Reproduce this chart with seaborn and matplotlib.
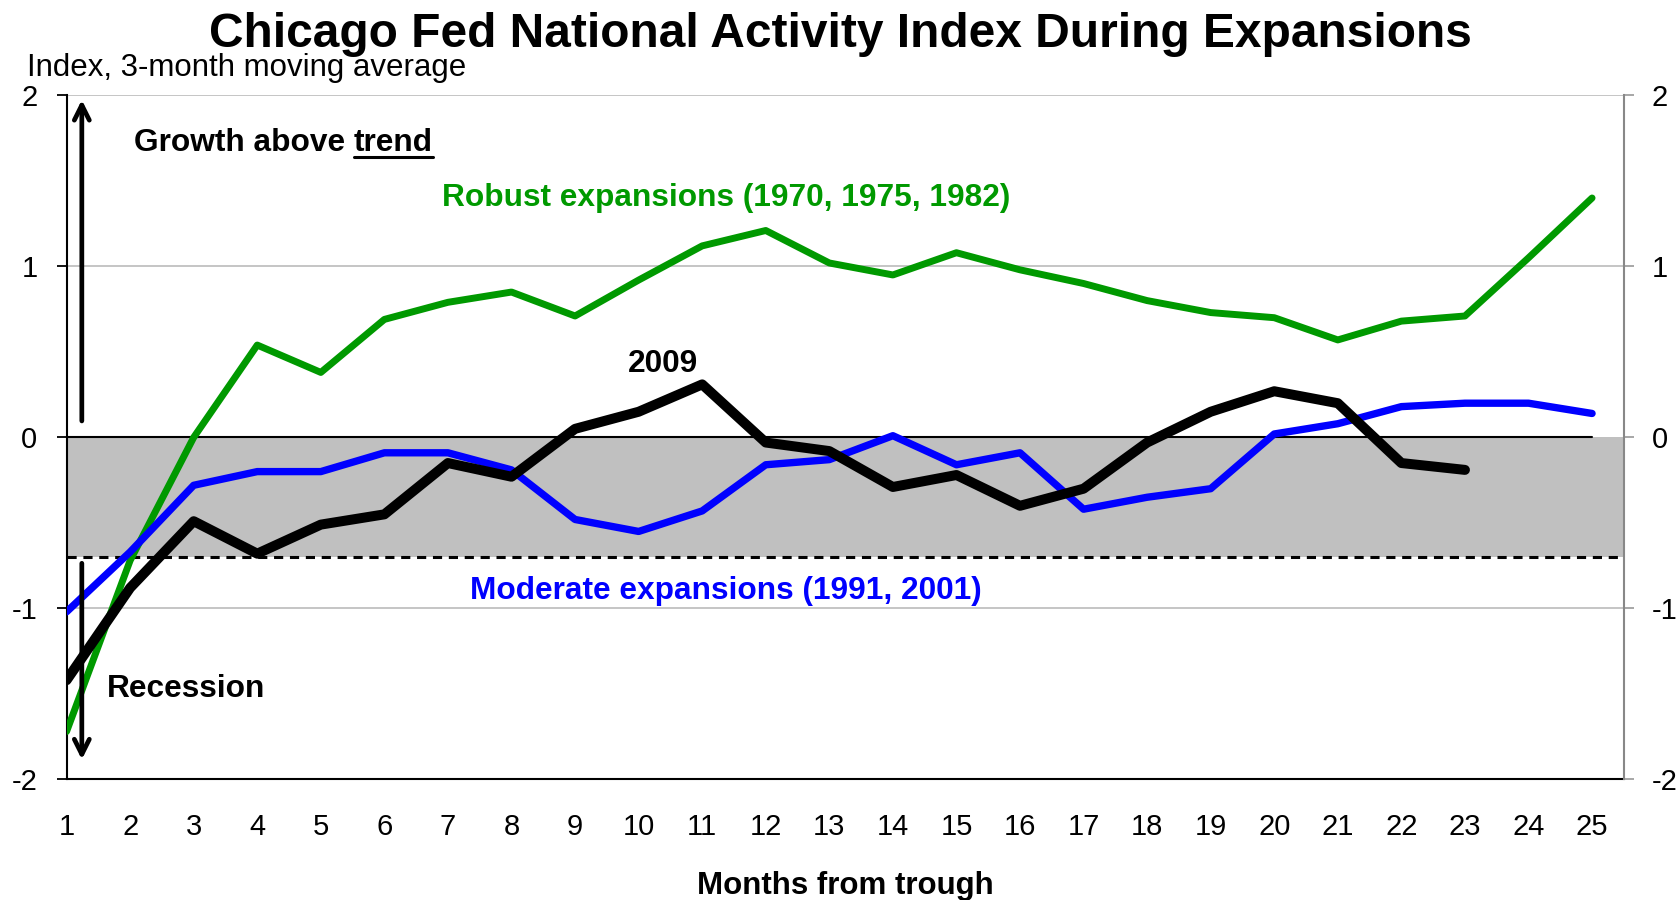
import numpy as np
import pandas as pd
import matplotlib
matplotlib.use("Agg")
import matplotlib.pyplot as plt
import seaborn as sns

months = list(range(1, 26))
robust = [-1.72, -0.72, 0.00, 0.54, 0.38, 0.69, 0.79, 0.85, 0.71, 0.92, 1.12, 1.21, 1.02,
          0.95, 1.08, 0.98, 0.90, 0.80, 0.73, 0.70, 0.57, 0.68, 0.71, 1.05, 1.40]
moderate = [-1.02, -0.67, -0.28, -0.20, -0.20, -0.09, -0.09, -0.19, -0.48, -0.55, -0.43, -0.16,
            -0.13, 0.01, -0.16, -0.09, -0.42, -0.35, -0.30, 0.02, 0.08, 0.18, 0.20, 0.20, 0.14]
months_2009 = list(range(1, 24))
y2009 = [-1.42, -0.88, -0.49, -0.68, -0.51, -0.45, -0.15, -0.23, 0.05, 0.15, 0.31, -0.03,
         -0.08, -0.29, -0.22, -0.40, -0.30, -0.03, 0.15, 0.27, 0.20, -0.15, -0.19]
yticks = [-2, -1, 0, 1, 2]
trend_level = -0.7

sns.set_theme(style="white")
plt.rcParams['font.family'] = ['Liberation Sans', 'DejaVu Sans']
for k in ["text.color", "axes.labelcolor", "xtick.color", "ytick.color"]:
    plt.rcParams[k] = "black"

fig = plt.figure(figsize=(16.81, 9.0), dpi=100)
ax = fig.add_axes([0.0396, 0.134, 0.966 - 0.0396, 0.894 - 0.134])

ax.set_xlim(1, 25.5)
ax.set_ylim(-2, 2)

# shaded band & reference lines
ax.axhspan(trend_level, 0, color="#C0C0C0", lw=0, zorder=0)
for v in [1, -1, 2]:
    ax.axhline(v, color="#C0C0C0", lw=1.3, zorder=0.5)
ax.plot([1, 25], [0, 0], color="black", lw=1.5, zorder=1)
ax.axhline(trend_level, color="black", lw=2.2, ls=(0, (3, 2.2)), zorder=1)

df_r = pd.DataFrame({"month": months, "value": robust})
df_m = pd.DataFrame({"month": months, "value": moderate})
df_b = pd.DataFrame({"month": months_2009, "value": y2009})

sns.lineplot(data=df_r, x="month", y="value", ax=ax, color="#009900", lw=5.0,
             solid_capstyle="round", zorder=3)
sns.lineplot(data=df_m, x="month", y="value", ax=ax, color="#0000FF", lw=5.3,
             solid_capstyle="round", zorder=3)
sns.lineplot(data=df_b, x="month", y="value", ax=ax, color="black", lw=7.2,
             solid_capstyle="round", zorder=4)

ax.set_xticks(months)
ax.set_xticklabels([str(m) for m in months], fontsize=21)
ax.set_yticks(yticks)
ax.set_yticklabels([str(v) for v in yticks], fontsize=21)
ax.tick_params(axis="x", direction="in", length=9, width=1.3, color="black", pad=24)
ax.tick_params(axis="y", direction="out", length=7, width=1.3, color="black", pad=14, left=True)
ax.set_xlabel("")
ax.set_ylabel("")
ax.spines["top"].set_visible(False)
ax.spines["right"].set_visible(False)
ax.spines["left"].set_color("black")
ax.spines["left"].set_linewidth(1.5)
ax.spines["bottom"].set_color("black")
ax.spines["bottom"].set_linewidth(1.5)

ax2 = ax.twinx()
ax2.set_ylim(-2, 2)
ax2.set_yticks(yticks)
ax2.set_yticklabels([str(v) for v in yticks], fontsize=21)
ax2.tick_params(axis="y", direction="out", length=7, width=1.3, color="#A0A0A0", pad=13)
for s in ["top", "left", "bottom"]:
    ax2.spines[s].set_visible(False)
ax2.spines["right"].set_color("#888888")
ax2.spines["right"].set_linewidth(1.5)
ax2.grid(False)

# arrows
ax.annotate("", xy=(1.24, 1.99), xytext=(1.24, 0.08),
            arrowprops=dict(arrowstyle="->,head_length=0.9,head_width=0.45", lw=3.4, color="black"))
ax.annotate("", xy=(1.24, -1.90), xytext=(1.24, -0.72),
            arrowprops=dict(arrowstyle="->,head_length=0.9,head_width=0.45", lw=3.4, color="black"),
            zorder=5)

# text annotations
fs = 22.8
t1 = ax.text(2.06, 1.72, "Growth above ", fontsize=fs, fontweight="bold", va="center", ha="left")
ax.text(11.37, 1.40, "Robust expansions (1970, 1975, 1982)", fontsize=fs, fontweight="bold",
        color="#009900", ha="center", va="center")
ax.text(11.37, -0.90, "Moderate expansions (1991, 2001)", fontsize=fs, fontweight="bold",
        color="#0000FF", ha="center", va="center")
ax.text(10.38, 0.43, "2009", fontsize=fs, fontweight="bold", ha="center", va="center")
ax.text(1.64, -1.47, "Recession", fontsize=fs, fontweight="bold", ha="left", va="center")

fig.canvas.draw()
r = fig.canvas.get_renderer()
bb = t1.get_window_extent(r)
inv = ax.transData.inverted()
x_end = inv.transform((bb.x1, bb.y0))[0]
t2 = ax.text(x_end, 1.72, "trend", fontsize=fs, fontweight="bold", va="center", ha="left")
fig.canvas.draw()
bb2 = t2.get_window_extent(r)
fy = bb2.y0 + 1
fig.add_artist(plt.Line2D([bb2.x0 / fig.bbox.width, bb2.x1 / fig.bbox.width],
                          [fy / fig.bbox.height, fy / fig.bbox.height],
                          color="black", lw=2.2))

fig.suptitle("Chicago Fed National Activity Index During Expansions", fontsize=34.5,
             fontweight="bold", y=0.948, va="baseline")
fig.text(0.016, 0.9156, "Index, 3-month moving average", fontsize=22.5, ha="left", va="baseline")
fig.text(0.503, 0.0067, "Months from trough", fontsize=22.5, fontweight="bold",
         ha="center", va="baseline")

fig.savefig("out.png", dpi=100)
